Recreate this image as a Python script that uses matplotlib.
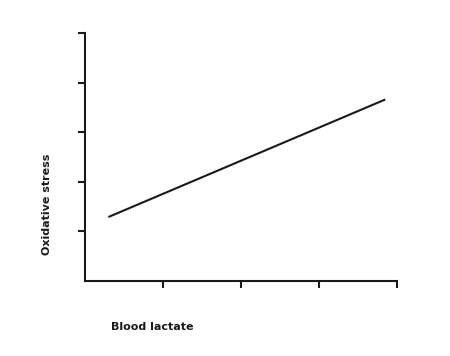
import matplotlib
matplotlib.use("Agg")
import matplotlib.pyplot as plt

# line endpoints (arbitrary units)
lactate = [0.30, 3.85]
stress = [1.29, 3.66]

x_ticks = [1, 2, 3, 4]
y_ticks = [1, 2, 3, 4, 5]

fig = plt.figure(figsize=(4.5, 3.56), dpi=100)
ax = fig.add_axes([0.1889, 0.2107, 0.6933, 0.6966])

ax.plot(lactate, stress, color="#1a1a1a", linewidth=1.5, solid_capstyle="butt")

ax.set_xlim(0, 4)
ax.set_ylim(0, 5)
ax.set_xticks(x_ticks)
ax.set_yticks(y_ticks)
ax.set_xticklabels([])
ax.set_yticklabels([])
ax.tick_params(length=5, width=1.5, color="#1a1a1a")

for side in ["top", "right"]:
    ax.spines[side].set_visible(False)
for side in ["left", "bottom"]:
    ax.spines[side].set_linewidth(1.5)
    ax.spines[side].set_color("#1a1a1a")

fig.text(0.2467, 0.0815, "Blood lactate", fontsize=8, fontweight="bold",
         ha="left", va="center", color="#1a1a1a")
fig.text(0.1044, 0.427, "Oxidative stress", fontsize=8, fontweight="bold",
         ha="center", va="center", rotation=90, color="#1a1a1a")

fig.savefig("out.png", dpi=100)
